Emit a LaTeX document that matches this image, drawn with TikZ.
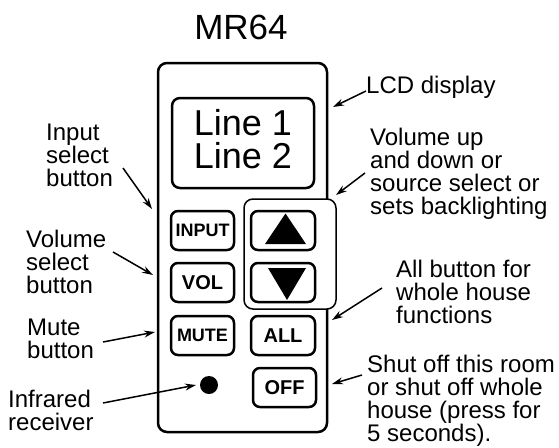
\documentclass[tikz,border=0pt]{standalone}
\usepackage{fontspec}
\setmainfont{Liberation Sans}
\usetikzlibrary{arrows.meta}
\tikzset{
  remote/.style={draw,line width=2.5pt,rounded corners=9pt,minimum width=169pt,minimum height=369pt,inner sep=0pt},
  lcdbox/.style={draw,line width=2.5pt,rounded corners=8pt,minimum width=142pt,minimum height=90pt,inner sep=0pt},
  padbox/.style={draw,fill=white,line width=1.5pt,rounded corners=9pt,minimum width=92pt,minimum height=110pt,inner sep=0pt},
  btn/.style={draw,line width=2.5pt,rounded corners=7pt,minimum width=63pt,minimum height=39pt,inner sep=0pt,font=\fontsize{20}{20}\selectfont\bfseries},
  smallbtn/.style={btn,font=\fontsize{18}{18}\selectfont\bfseries},
  note/.style={anchor=north west,align=left,inner sep=0pt,font=\fontsize{24}{23}\selectfont},
  callout/.style={line width=1.5pt}
}

\begin{document}
\begin{tikzpicture}[x=1pt,y=-1pt,>={Stealth[length=11pt,width=7pt]}]
  % pixel grid of the sheet, y counted downwards
  \useasboundingbox (0,0) rectangle (559,447);
  \node[anchor=base,font=\fontsize{35}{35}\selectfont] (title) at (241,39) {MR64};
  \node[remote] (body) at (242.5,247.5) {};
  \node[lcdbox] (lcd) at (243,143) {};
  \node[anchor=north,align=center,inner sep=0pt,font=\fontsize{36}{33}\selectfont] (lcdtext) at (243,109) {Line 1\\Line 2};
  \node[padbox] (pad) at (290,254) {};
  \node[smallbtn] (input) at (202.5,230.5) {INPUT};
  \node[btn] (vol) at (202.5,282.5) {VOL};
  \node[smallbtn] (mute) at (202.5,335.5) {MUTE};
  \node[btn,minimum width=64pt] (up) at (283,230.5) {};
  \node[btn,minimum width=64pt] (down) at (283,282.5) {};
  \node[btn,minimum width=64pt] (all) at (283,335.5) {ALL};
  \node[btn] (off) at (284.5,387.5) {OFF};
  \node[circle,fill,minimum size=18pt,inner sep=0pt] (ir) at (209,385) {};
  \fill[shift={(up.center)}] (2.5,-17) -- (-18,13.5) -- (23,13.5) -- cycle;
  \fill[shift={(down.center)}] (-15,-14.5) -- (23,-14.5) -- (4,17.5) -- cycle;

  \node[note] (inputnote) at (46,123.5) {Input\\select\\button};
  \node[note] (volnote) at (26,229.5) {Volume\\select\\button};
  \node[note] (mutenote) at (27,318.5) {Mute\\button};
  \node[note] (irnote) at (8,389.5) {Infrared\\receiver};
  \node[note] (lcdnote) at (366,75.5) {LCD display};
  \node[note] (padnote) at (370,127.5) {Volume up\\and down or\\source select or\\sets backlighting};
  \node[note] (allnote) at (396,259.5) {All button for\\whole house\\functions};
  \node[note] (offnote) at (367,354.5) {Shut off this room\\or shut off whole\\house (press for\\5 seconds).};

  \coordinate (inputfrom) at (123,168);  \coordinate (inputto) at (152,209);
  \coordinate (volfrom) at (113,252);    \coordinate (volto) at (153,275);
  \coordinate (mutefrom) at (103,342);   \coordinate (muteto) at (155,332);
  \coordinate (irfrom) at (103,403);     \coordinate (irto) at (196,385);
  \coordinate (lcdfrom) at (366,91);     \coordinate (lcdto) at (333,107);
  \coordinate (padfrom) at (365,173);    \coordinate (padto) at (336,195);
  \coordinate (allfrom) at (382,288);    \coordinate (allto) at (332,320);
  \coordinate (offfrom) at (362,375);    \coordinate (offto) at (332,384);
  \path[->,callout]
    (inputfrom) edge (inputto)
    (volfrom) edge (volto)
    (mutefrom) edge (muteto)
    (irfrom) edge (irto)
    (lcdfrom) edge (lcdto)
    (padfrom) edge (padto)
    (allfrom) edge (allto)
    (offfrom) edge (offto);
\end{tikzpicture}
\end{document}
